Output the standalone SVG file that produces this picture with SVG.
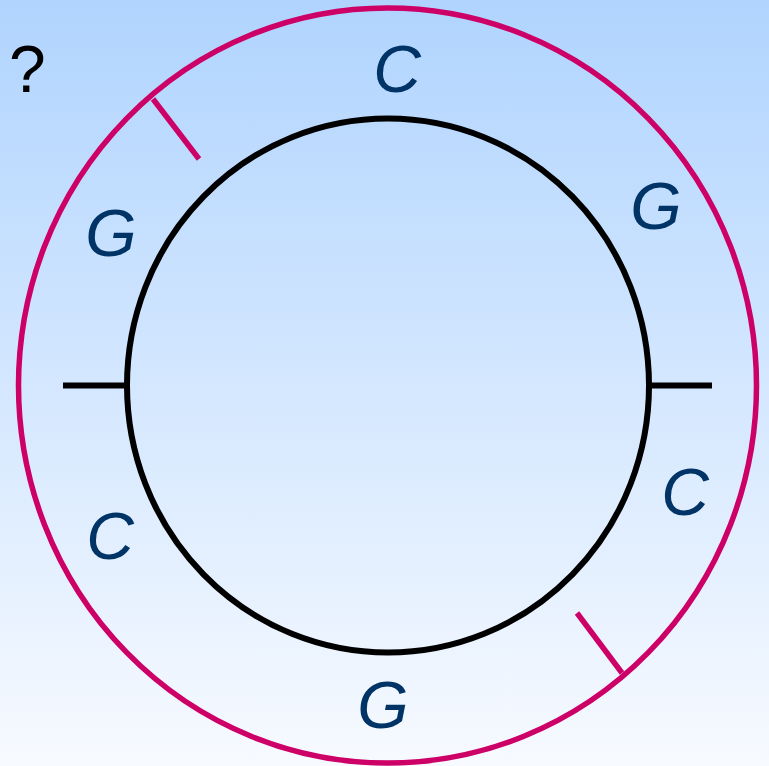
<svg xmlns="http://www.w3.org/2000/svg" width="769" height="766" viewBox="0 0 769 766">
<defs>
<linearGradient id="bg" x1="0" y1="0" x2="0" y2="1">
<stop offset="0" stop-color="#b0d4fe"/>
<stop offset="1" stop-color="#f7faff"/>
</linearGradient>
<style>
.lbl{font-family:"Liberation Sans",Arial,sans-serif;font-style:italic;font-size:66px;fill:#003366;text-anchor:middle}
.mag{fill:none;stroke:#cc0066;stroke-width:5.5}
.blk{fill:none;stroke:#000;stroke-width:6}
</style>
</defs>
<rect width="769" height="766" fill="url(#bg)"/>
<text x="9" y="92" font-family="Liberation Sans, Arial, sans-serif" font-size="66" fill="#000">?</text>
<g id="connectors">
<ellipse id="outer" class="mag" cx="387.5" cy="385.5" rx="369" ry="377.5"/>
<ellipse id="inner" class="blk" cx="388" cy="385.5" rx="261" ry="267"/>
<line class="blk" x1="63" y1="385.5" x2="128" y2="385.5"/>
<line class="blk" x1="648" y1="385.5" x2="712" y2="385.5"/>
<line class="mag" x1="153" y1="99" x2="199" y2="159"/>
<line class="mag" x1="577" y1="613" x2="622" y2="673"/>
</g>
<g id="n1"><text class="lbl" x="397" y="92">C</text></g>
<g id="n2"><text class="lbl" x="656" y="229">G</text></g>
<g id="n3"><text class="lbl" x="685" y="515">C</text></g>
<g id="n4"><text class="lbl" x="383" y="728">G</text></g>
<g id="n5"><text class="lbl" x="110" y="559">C</text></g>
<g id="n6"><text class="lbl" x="111" y="256">G</text></g>
</svg>
